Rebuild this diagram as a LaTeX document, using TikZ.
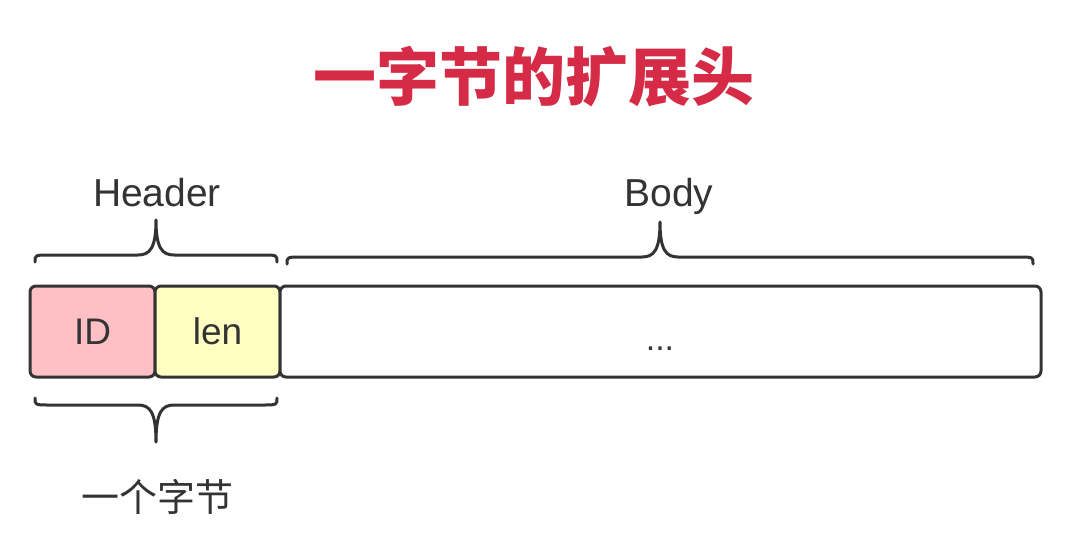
\documentclass[tikz,border=0pt]{standalone}
\usepackage{fontspec}
\setmainfont{Liberation Sans}
\newfontfamily\cjk{Noto Sans CJK SC}
\newfontfamily\cjkbold{Noto Sans CJK SC Black}
\definecolor{linec}{HTML}{333333}
\definecolor{titlered}{HTML}{D52B46}
\definecolor{idfill}{HTML}{FFC0C5}
\definecolor{lenfill}{HTML}{FFFFC2}
\tikzset{
  cell/.style={draw=linec, line width=3pt, rounded corners=6pt, minimum height=91pt, inner sep=0pt, text=linec},
  bracepath/.style={draw=linec, line width=3pt, line cap=round, line join=round},
  lbl/.style={text=linec, inner sep=0pt},
}
\begin{document}
\begin{tikzpicture}[x=1pt,y=-1pt]
\useasboundingbox (0,0) rectangle (1079,549);
\fill[white] (0,0) rectangle (1079,549);
% title
\node[text=titlered, inner sep=0pt] (title) at (534,77) {\cjkbold\fontsize{63}{70}\selectfont 一字节的扩展头};
% boxes
\node[cell, fill=idfill, minimum width=125pt] (id) at (92.5,331.5) {\fontsize{37}{40}\selectfont ID};
\node[cell, fill=lenfill, minimum width=125pt] (len) at (217.5,331.5) {\fontsize{37}{40}\selectfont len};
\node[cell, fill=white, minimum width=761pt] (body) at (660.5,331.5) {};
\node[lbl, anchor=base] (dots) at (660,350) {\fontsize{34}{36}\selectfont ...};
% header brace
\draw[bracepath] (35,262) .. controls (35,255) .. (50,255) -- (138,255)
  .. controls (150,255) and (156,248) .. (156,220)
  .. controls (156,248) and (162,255) .. (174,255) -- (262,255)
  .. controls (277,255) .. (277,262);
\node[lbl, anchor=base] (header) at (157,206) {\fontsize{39}{42}\selectfont Header};
% body brace
\draw[bracepath] (287,264) .. controls (287,257) .. (302,257) -- (642,257)
  .. controls (654,257) and (660,250) .. (660,222)
  .. controls (660,250) and (666,257) .. (678,257) -- (1018,257)
  .. controls (1033,257) .. (1033,264);
\node[lbl, anchor=base] (bodylbl) at (669,206) {\fontsize{39}{42}\selectfont Body};
% bottom brace
\draw[bracepath] (35,398) .. controls (35,405) .. (50,405) -- (138,405)
  .. controls (150,405) and (156,412) .. (156,442)
  .. controls (156,412) and (162,405) .. (174,405) -- (262,405)
  .. controls (277,405) .. (277,398);
\node[lbl] (onebyte) at (157,497) {\cjk\fontsize{38}{42}\selectfont 一个字节};
\end{tikzpicture}
\end{document}
